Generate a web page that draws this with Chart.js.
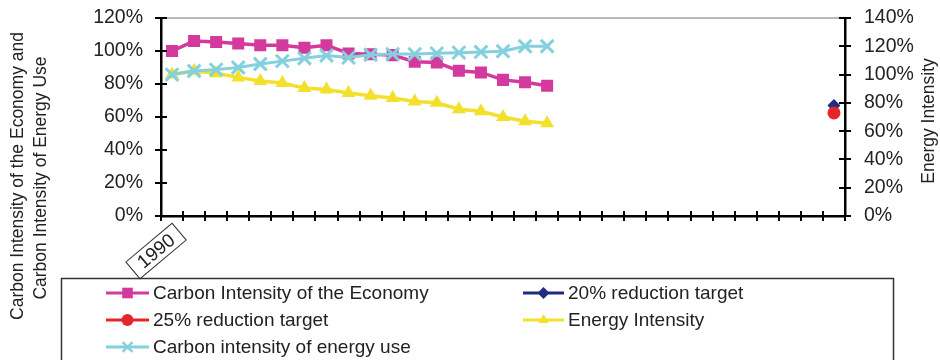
<!DOCTYPE html>
<html>
<head>
<meta charset="utf-8">
<script src="https://cdn.jsdelivr.net/npm/chart.js@4.4.1/dist/chart.umd.min.js"></script>
<style>
  html, body { margin: 0; padding: 0; background: #fff; }
  #wrap { width: 940px; height: 360px; position: relative; }
</style>
</head>
<body>
<div id="wrap"><canvas id="c" width="940" height="360"></canvas></div>
<script>
// Years on the category axis (only the first one carries a visible label)
const years = ['1990','1991','1992','1993','1994','1995','1996','1997','1998','1999',
               '2000','2001','2002','2003','2004','2005','2006','2007','2008','2009',
               '2010','2011','2012','2013','2014','2015','2016','2017','2018','2019','2020'];
const shownYearLabels = ['1990'];

// Indices relative to 1990 = 100%
const carbonIntensityEconomy = [100, 106, 105.5, 104.5, 103.5, 103.5, 102, 103.5, 98.5, 98,
                                97.5, 93.5, 93, 88, 87, 82.5, 81, 79];
const energyIntensity = [100, 102.5, 101, 98, 95.5, 94, 90.5, 89.5, 87, 85,
                         83.5, 81, 80, 75.5, 74, 70, 67, 65.5];
const carbonIntensityEnergyUse = [100, 102.5, 103.5, 105, 107.5, 109.5, 111.5, 113.5, 112, 114,
                                  114.5, 114.5, 115, 115.5, 116, 116.5, 120, 120];

// 2020 reduction targets for the carbon intensity of the economy
const targetYear = '2020';
const target20 = 67;
const target25 = 62.5;

// Axis tick ranges
const leftAxisMax = 120;
const rightAxisMax = 140;
const tickStep = 20;

const FONT = '"Liberation Sans", Arial, sans-serif';
const COLORS = {
  economy: '#D43A9E',
  t20: '#1F2D80',
  t25: '#E5262C',
  energy: '#F3E02A',
  energyUse: '#84D0DD'
};

const datasets = [
  { label: 'Carbon Intensity of the Economy', data: carbonIntensityEconomy, yAxisID: 'y',
    borderColor: COLORS.economy, backgroundColor: COLORS.economy, borderWidth: 3.5,
    pointStyle: 'rect', pointRadius: 8.5, pointBorderWidth: 0, order: 2 },
  { label: '20% reduction target', data: [{ x: targetYear, y: target20 }], yAxisID: 'y',
    borderColor: COLORS.t20, backgroundColor: COLORS.t20, borderWidth: 3,
    pointStyle: 'rectRot', pointRadius: 6.5, pointBorderWidth: 0, showLine: false, order: 1 },
  { label: '25% reduction target', data: [{ x: targetYear, y: target25 }], yAxisID: 'y',
    borderColor: COLORS.t25, backgroundColor: COLORS.t25, borderWidth: 3,
    pointStyle: 'circle', pointRadius: 6.5, pointBorderWidth: 0, showLine: false, order: 0 },
  { label: 'Energy Intensity', data: energyIntensity, yAxisID: 'y1',
    borderColor: COLORS.energy, backgroundColor: COLORS.energy, borderWidth: 3.5,
    pointStyle: 'triangle', pointRadius: 8, pointBorderWidth: 0, order: 3 },
  { label: 'Carbon intensity of energy use', data: carbonIntensityEnergyUse, yAxisID: 'y1',
    borderColor: COLORS.energyUse, backgroundColor: COLORS.energyUse, borderWidth: 3,
    pointStyle: 'crossRot', pointRadius: 9, pointBorderWidth: 3, order: 1 }
];

// Two-column boxed legend under the plot, plus axis titles and tick marks
const decor = {
  id: 'decor',
  beforeDatasetsDraw(chart) {
    const { ctx, chartArea: a } = chart;
    ctx.save();
    ctx.strokeStyle = '#a0a0a0';
    ctx.lineWidth = 1.5;
    ctx.beginPath();
    ctx.moveTo(a.left, a.top);
    ctx.lineTo(a.right, a.top);
    ctx.stroke();
    ctx.restore();
  },
  afterDraw(chart) {
    const { ctx, chartArea: a, scales } = chart;
    ctx.save();

    // crossing tick marks on both value axes
    ctx.strokeStyle = '#000';
    ctx.lineWidth = 2;
    [['y', scales.y.left + scales.y.width], ['y1', scales.y1.left]].forEach(([id, ax]) => {
      const s = scales[id];
      s.ticks.forEach(t => {
        const py = Math.round(s.getPixelForValue(t.value));
        ctx.beginPath();
        ctx.moveTo(ax - 6, py);
        ctx.lineTo(ax + 6, py);
        ctx.stroke();
      });
    });
    // category boundary ticks on the x axis
    const xs = scales.x;
    const step = xs.getPixelForValue(1) - xs.getPixelForValue(0);
    for (let i = 0; i <= years.length; i++) {
      const px = Math.round(xs.getPixelForValue(0) - step / 2 + i * step);
      ctx.beginPath();
      ctx.moveTo(px, a.bottom - 5);
      ctx.lineTo(px, a.bottom + 5);
      ctx.stroke();
    }

    // boxed, rotated year label
    shownYearLabels.forEach(lbl => {
      const idx = years.indexOf(lbl);
      ctx.save();
      ctx.translate(xs.getPixelForValue(idx) - 16, a.bottom + 35);
      ctx.rotate(-40 * Math.PI / 180);
      ctx.font = '19px ' + FONT;
      const w = ctx.measureText(lbl).width;
      ctx.strokeStyle = '#333';
      ctx.lineWidth = 1;
      ctx.fillStyle = '#fff';
      ctx.fillRect(-w / 2 - 9, -11, w + 18, 22);
      ctx.strokeRect(-w / 2 - 9, -11, w + 18, 22);
      ctx.fillStyle = '#222';
      ctx.textAlign = 'center';
      ctx.textBaseline = 'middle';
      ctx.fillText(lbl, 0, 1);
      ctx.restore();
    });

    // axis titles
    ctx.fillStyle = '#222';
    ctx.font = '17.5px ' + FONT;
    ctx.textAlign = 'center';
    ctx.textBaseline = 'middle';
    const vText = (txt, x, y) => {
      ctx.save();
      ctx.translate(x, y);
      ctx.rotate(-Math.PI / 2);
      ctx.fillText(txt, 0, 0);
      ctx.restore();
    };
    vText('Carbon Intensity of the Economy and', 18, 176);
    vText('Carbon Intensity of Energy Use', 41, 178);
    vText('Energy Intensity', 929, 121);

    // legend box
    ctx.strokeStyle = '#333';
    ctx.lineWidth = 1.5;
    ctx.strokeRect(61.5, 278.5, 832, 120);
    const cols = [{ lx: 106, tx: 153 }, { lx: 523, tx: 568 }];
    const rows = [293, 320, 347];
    const order = [0, 1, 2, 3, 4];
    ctx.font = '19px ' + FONT;
    ctx.textAlign = 'left';
    order.forEach((di, k) => {
      const ds = chart.data.datasets[di];
      const c = cols[k % 2];
      const y = rows[Math.floor(k / 2)];
      const x1 = c.lx, x2 = c.tx - 4;
      ctx.strokeStyle = ds.borderColor;
      ctx.lineWidth = 3;
      ctx.beginPath();
      ctx.moveTo(x1, y);
      ctx.lineTo(x2, y);
      ctx.stroke();
      ctx.fillStyle = ds.backgroundColor;
      ctx.strokeStyle = ds.borderColor;
      ctx.lineWidth = ds.pointStyle === 'crossRot' ? 2.5 : 0.01;
      Chart.helpers.drawPoint(ctx, {
        pointStyle: ds.pointStyle,
        radius: ds.pointStyle === 'crossRot' ? 7 : (ds.pointStyle === 'rect' ? 7.5 : 6),
        borderWidth: ctx.lineWidth, rotation: 0
      }, (x1 + x2) / 2, y);
      ctx.fillStyle = '#222';
      ctx.textBaseline = 'middle';
      ctx.fillText(ds.label, c.tx, y + 1);
    });
    ctx.restore();
  }
};

// value axes: no extra layout room reserved for the end labels
const noEndPadding = s => { s.paddingTop = 0; s.paddingBottom = 0; };

new Chart(document.getElementById('c'), {
  type: 'line',
  data: { labels: years, datasets },
  options: {
    responsive: false,
    animation: false,
    devicePixelRatio: 1,
    layout: { padding: { top: 18, left: 0, right: 0, bottom: 0 } },
    plugins: { legend: { display: false }, tooltip: { enabled: false } },
    elements: { line: { tension: 0 } },
    scales: {
      x: {
        type: 'category',
        offset: true,
        grid: { display: false, drawTicks: false },
        border: { display: true, color: '#000', width: 2.5 },
        ticks: { display: false },
        afterFit(s) { s.height = 144; }
      },
      y: {
        position: 'left',
        min: 0, max: leftAxisMax,
        grid: { display: false, drawTicks: false },
        border: { display: true, color: '#000', width: 2.5 },
        ticks: { stepSize: tickStep, padding: 18, color: '#222',
                 font: { family: FONT, size: 19.5 },
                 callback: v => v + '%' },
        afterFit(s) { s.width = 161; noEndPadding(s); }
      },
      y1: {
        position: 'right',
        min: 0, max: rightAxisMax,
        grid: { display: false, drawTicks: false },
        border: { display: true, color: '#000', width: 2.5 },
        ticks: { stepSize: tickStep, padding: 19, color: '#222',
                 font: { family: FONT, size: 19.5 },
                 callback: v => v + '%' },
        afterFit(s) { s.width = 95; noEndPadding(s); }
      }
    }
  },
  plugins: [decor]
});
</script>
</body>
</html>
